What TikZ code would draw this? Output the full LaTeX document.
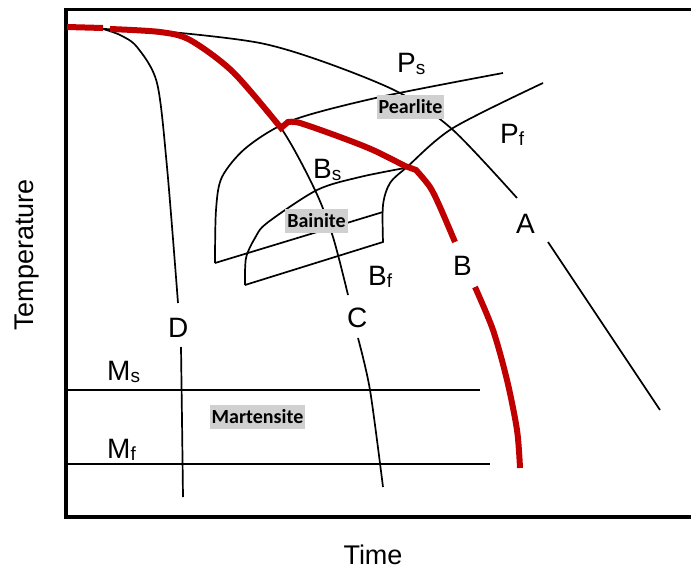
\documentclass[tikz,border=0pt]{standalone}
\usepackage{fontspec}
\setmainfont{Liberation Sans}
\newfontfamily\calibri{Carlito}
\usepackage{tikz}
\usetikzlibrary{positioning}
\definecolor{coolred}{HTML}{C00000}
\definecolor{phasegray}{HTML}{D0D0D0}
\newcommand{\lowsub}[1]{\raisebox{-2pt}{\fontsize{19}{19}\selectfont #1}}

\begin{document}
\begin{tikzpicture}[
  x=1pt, y=-1pt,
  frame/.style={line width=3.5pt},
  curve/.style={line width=1.7pt},
  cool/.style={coolred, line width=6pt},
  lbl/.style={inner sep=0pt, anchor=base west, font=\fontsize{28}{28}\selectfont},
  axislbl/.style={inner sep=0pt, font=\fontsize{27}{27}\selectfont},
  phase/.style={fill=phasegray, inner xsep=2pt, inner ysep=0pt, minimum height=24pt, font=\calibri\bfseries\fontsize{20}{20}\selectfont}
]
  \useasboundingbox (0,0) rectangle (691,571);

  \draw[frame] (691,9.5) -- (66,9.5) -- (66,517) -- (691,517);

  \draw[curve] (66,390) -- (480,390);
  \draw[curve] (66,464) -- (490,464);

  \draw[curve] plot[smooth] coordinates {(103,29) (170,32) (260,43) (327,63) (400,93) (453,130) (517,198)};
  \draw[curve] (548,242) -- (660,410);

  \draw[curve] plot[smooth] coordinates {(103,29) (120,35) (137,47) (157,83) (167,167) (178,303)};
  \draw[curve] plot[smooth] coordinates {(181,347) (182,420) (183,497)};

  \draw[curve] plot[smooth] coordinates {(200,46) (233,72) (281,128) (315,190) (333,237) (348,295)};
  \draw[curve] plot[smooth] coordinates {(358,338) (370,390) (383,487)};

  \draw[curve] plot[smooth] coordinates {(215,263) (216,210) (222,177) (247,147) (293,120) (380,97) (503,73)};
  \draw[curve] (215,263) -- (383,212);
  \draw[curve] plot[smooth] coordinates {(245,285) (246,258) (255,238) (267,223) (317,190) (360,177) (405,168)};
  \draw[curve] (245,285) -- (383,242)
    -- plot[smooth] coordinates {(383,242) (383,205) (390,183) (407,167) (453,128) (543,83)};

  \draw[cool] (67,27) -- (103,28);
  \draw[cool] plot[smooth] coordinates {(110,29) (160,32) (190,40) (233,72) (281,128)}
    -- plot[smooth] coordinates {(288,122) (300,123) (340,137) (373,150) (405,166)}
    -- plot[smooth] coordinates {(416,170) (430,187) (440,207) (455,242)};
  \draw[cool] plot[smooth] coordinates {(475,287) (493,330) (507,380) (517,430) (520,468)};

  \node[lbl] (ps) at (397,72) {P\lowsub{s}};
  \node[lbl] (pf) at (500,143) {P\lowsub{f}};
  \node[lbl] (bs) at (313,178) {B\lowsub{s}};
  \node[lbl] (bf) at (368,285) {B\lowsub{f}};
  \node[lbl] (ms) at (107,380) {M\lowsub{s}};
  \node[lbl] (mf) at (107,458) {M\lowsub{f}};
  \node[lbl] (a) at (516,233) {A};
  \node[lbl] (b) at (453,275) {B};
  \node[lbl] (c) at (347,327) {C};
  \node[lbl] (d) at (168,337) {D};

  \node[phase] (pearlite) at (410.5,107) {Pearlite};
  \node[phase] (bainite) at (316.5,220.5) {Bainite};
  \node[phase] (martensite) at (257.5,417) {Martensite};

  \node[axislbl, rotate=90] (temp) at (27,255) {Temperature};
  \node[axislbl] (time) at (373,555) {Time};
\end{tikzpicture}
\end{document}
